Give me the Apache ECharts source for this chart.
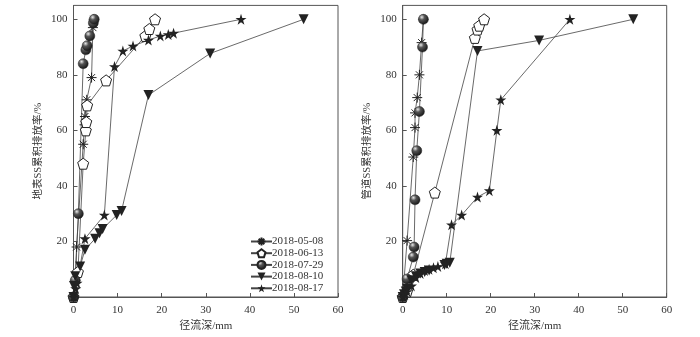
<!DOCTYPE html>
<html>
<head>
<meta charset="utf-8">
<script src="https://cdn.jsdelivr.net/npm/echarts@6/dist/echarts.min.js"></script>
<style>html,body{margin:0;padding:0;background:#fff}#c{width:700px;height:337px}</style>
</head>
<body>
<div id="c"></div>
<script>
// ---- data ----
const seriesNames = ['2018-05-08', '2018-06-13', '2018-07-29', '2018-08-10', '2018-08-17'];
const xTicks = [0, 10, 20, 30, 40, 50, 60];
const yTicks = [20, 40, 60, 80, 100];
const xAxisName = '径流深/mm';
const yNameSurface = '地表SS累积排放率/%';
const yNamePipe = '管道SS累积排放率/%';

// 地表 (left)
const surf0508 = [[0,0],[0.4,6],[0.7,18],[2.2,55],[2.5,62],[2.6,65],[3.0,71],[4.1,79],[4.4,97],[4.6,100]];
const surf0613 = [[0,0],[1.0,9],[2.2,48],[2.8,60],[2.9,63],[3.1,69],[7.4,78],[16.3,94],[17.2,96.5],[18.5,100]];
const surf0729 = [[0,0],[0.4,6],[1.1,30],[2.2,84],[2.8,89],[3.1,90.5],[3.7,94],[4.5,98.7],[4.7,100]];
const surf0810 = [[0,0],[0.1,4],[0.4,7.5],[1.5,11],[2.6,17],[4.9,21],[5.9,23],[6.6,24.5],[9.8,29.5],[10.9,31],[17,72.7],[31,87.7],[52.2,100]];
const surf0817 = [[0,0],[0.5,3],[0.8,5],[2.6,21],[7,29.5],[9.3,83],[11.2,88.6],[13.5,90.4],[17,92.5],[19.7,94],[21.5,94.5],[22.7,95],[38,100]];

// 管道 (right)
const pipe0508 = [[0,0],[1.0,20.3],[2.4,50.4],[2.8,61],[2.8,66.3],[3.3,71.8],[3.8,80],[4.3,91.6],[4.7,100]];
const pipe0613 = [[0,0],[1.0,2],[2.4,8],[7.3,37.6],[16.4,93.3],[17,96.3],[17.4,97.7],[18.5,100]];
const pipe0729 = [[0,0],[1.0,6.5],[2.4,14.4],[2.6,18],[2.8,35],[3.2,52.7],[3.8,66.8],[4.5,90],[4.7,100]];
const pipe0810 = [[0,0],[0.3,1],[0.7,2],[1.0,3],[2.0,6],[3.0,7.5],[4.0,8.5],[5.0,9],[6.0,9.5],[9.5,11.5],[10.0,12],[10.7,12.3],[17,88.6],[31,92.4],[52.4,100]];
const pipe0817 = [[0,0],[0.5,1],[1.0,2],[2.0,4],[3.0,7],[4.0,8.5],[5.0,9.5],[6.0,10],[7.0,10.5],[8.0,11],[9.7,12],[11.1,26],[13.4,29.5],[17,36],[19.7,38.3],[21.4,60],[22.3,71],[38,100]];

// ---- styles ----
const SERIF = "'Liberation Serif','Noto Sans CJK SC',serif";
const INK = '#333';
const symAsterisk = 'path://M0,50 L100,50 M50,0 L50,100 M15,15 L85,85 M85,15 L15,85';
const symPentagon = 'path://M50,0 L97.55,34.55 L79.39,90.45 L20.61,90.45 L2.45,34.55 Z';
const symStar = 'path://M50,0 L61.2,34.5 L97.6,34.5 L68.2,55.9 L79.4,90.5 L50,69.1 L20.6,90.5 L31.8,55.9 L2.4,34.5 L38.8,34.5 Z';
const sphere = new echarts.graphic.RadialGradient(0.35, 0.3, 0.75, [
  {offset: 0, color: '#e8e8e8'}, {offset: 0.35, color: '#555'}, {offset: 1, color: '#111'}
]);

const styles = [
  {symbol: symAsterisk, symbolSize: 10, itemStyle: {color: '#fff', borderColor: '#222', borderWidth: 1}},
  {symbol: symPentagon, symbolSize: 11, itemStyle: {color: '#fff', borderColor: '#222', borderWidth: 1}},
  {symbol: 'circle', symbolSize: 10, itemStyle: {color: sphere, borderColor: '#222', borderWidth: 0.5}},
  {symbol: 'triangle', symbolSize: 10, symbolRotate: 180, itemStyle: {color: '#222'}},
  {symbol: symStar, symbolSize: 11, itemStyle: {color: '#222'}}
];

function mk(name, data, idx, axis) {
  const s = styles[idx];
  return Object.assign({
    name: name, type: 'line', data: data, xAxisIndex: axis, yAxisIndex: axis,
    lineStyle: {color: '#444', width: 0.8}, showSymbol: true, animation: false,
    emphasis: {disabled: true}
  }, s);
}

function xAx(grid) {
  return {
    gridIndex: grid, type: 'value', min: xTicks[0], max: xTicks[xTicks.length - 1], interval: 10,
    name: xAxisName, nameLocation: 'middle', nameGap: 24,
    nameTextStyle: {fontFamily: SERIF, fontSize: 11, color: INK},
    axisLine: {show: true, lineStyle: {color: '#555', width: 1}},
    axisTick: {show: true, inside: true, length: 4, lineStyle: {color: '#555'}},
    axisLabel: {fontFamily: SERIF, fontSize: 11, color: INK, margin: 8},
    splitLine: {show: false}
  };
}
function yAx(grid, nm) {
  return {
    gridIndex: grid, type: 'value', min: 0, max: 105, interval: 20,
    name: nm, nameLocation: 'middle', nameGap: 30,
    nameTextStyle: {fontFamily: SERIF, fontSize: 10.5, color: INK},
    axisLine: {show: true, lineStyle: {color: '#555', width: 1}},
    axisTick: {show: true, inside: true, length: 4, lineStyle: {color: '#555'}},
    axisLabel: {fontFamily: SERIF, fontSize: 11, color: INK, margin: 6, showMaxLabel: false,
      formatter: v => (yTicks.indexOf(v) >= 0 ? String(v) : '')},
    splitLine: {show: false}
  };
}

const chart = echarts.init(document.getElementById('c'), null, {renderer: 'canvas'});
chart.setOption({
  backgroundColor: '#fff',
  animation: false,
  grid: [
    {left: 73.5, right: 362, top: 5.4, bottom: 34.5, show: true, borderColor: '#555', borderWidth: 1, backgroundColor: 'transparent'},
    {left: 402.7, right: 33.3, top: 5.4, bottom: 34.5, show: true, borderColor: '#555', borderWidth: 1, backgroundColor: 'transparent'}
  ],
  legend: {
    orient: 'vertical', left: 245, top: 231, itemWidth: 21, itemHeight: 10, itemGap: 0.7,
    textStyle: {fontFamily: SERIF, fontSize: 11, color: INK, padding: [0, 0, 0, -5]},
    data: seriesNames, selectedMode: false
  },
  xAxis: [xAx(0), xAx(1)],
  yAxis: [yAx(0, yNameSurface), yAx(1, yNamePipe)],
  series: [
    mk(seriesNames[0], surf0508, 0, 0),
    mk(seriesNames[1], surf0613, 1, 0),
    mk(seriesNames[2], surf0729, 2, 0),
    mk(seriesNames[3], surf0810, 3, 0),
    mk(seriesNames[4], surf0817, 4, 0),
    mk(seriesNames[0], pipe0508, 0, 1),
    mk(seriesNames[1], pipe0613, 1, 1),
    mk(seriesNames[2], pipe0729, 2, 1),
    mk(seriesNames[3], pipe0810, 3, 1),
    mk(seriesNames[4], pipe0817, 4, 1)
  ]
});
</script>
</body>
</html>
